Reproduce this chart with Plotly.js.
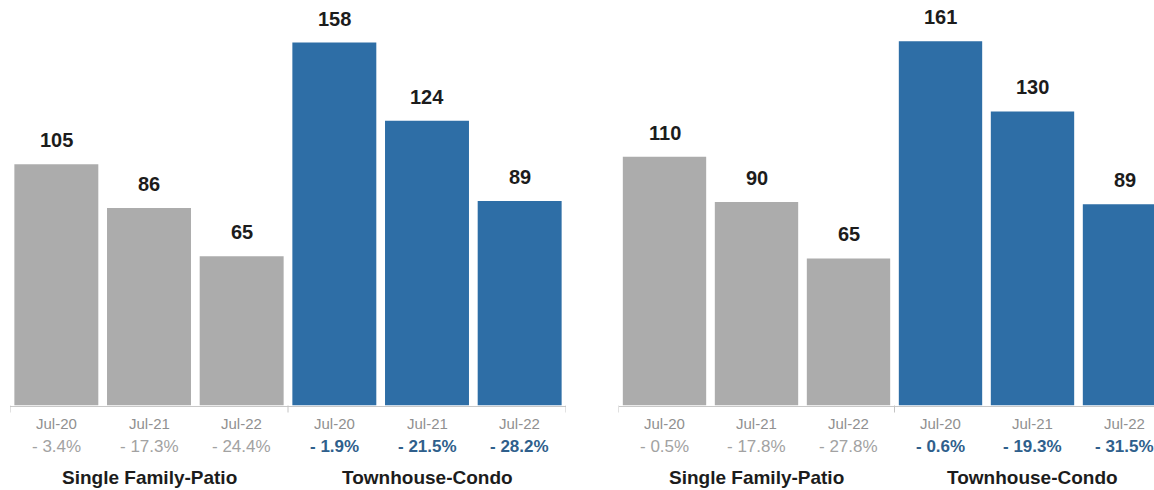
<!DOCTYPE html>
<html>
<head>
<meta charset="utf-8">
<script src="https://cdn.plot.ly/plotly-3.0.1.min.js"></script>
<style>
html,body{margin:0;padding:0;background:#fff;overflow:hidden;}
#chart{width:1154px;height:490px;}
</style>
</head>
<body>
<div id="chart"></div>
<script>
// ---- data ----
const periods = ["Jul-20", "Jul-21", "Jul-22"];
const groups = ["Single Family-Patio", "Townhouse-Condo"];

const leftSingleFamily = [105, 86, 65];
const leftTownhouse = [158, 124, 89];
const leftSingleFamilyPct = ["- 3.4%", "- 17.3%", "- 24.4%"];
const leftTownhousePct = ["- 1.9%", "- 21.5%", "- 28.2%"];

const rightSingleFamily = [110, 90, 65];
const rightTownhouse = [161, 130, 89];
const rightSingleFamilyPct = ["- 0.5%", "- 17.8%", "- 27.8%"];
const rightTownhousePct = ["- 0.6%", "- 19.3%", "- 31.5%"];

// ---- style ----
const GREY = "#acacac";
const BLUE = "#2e6ea6";
const FONT = "Liberation Sans, Arial, sans-serif";
const W = 1154, H = 490;
const baselinePx = 405.5;
const yDomBottom = (H - baselinePx) / H;

function cats(prefix) {
  const out = [];
  groups.forEach(g => periods.forEach(p => out.push(prefix + "|" + g + "|" + p)));
  return out;
}

const panels = [
  {xa: "x", ya: "y", sf: leftSingleFamily, th: leftTownhouse, sfp: leftSingleFamilyPct, thp: leftTownhousePct},
  {xa: "x2", ya: "y2", sf: rightSingleFamily, th: rightTownhouse, sfp: rightSingleFamilyPct, thp: rightTownhousePct}
];

const data = [];
const annotations = [];
const shapes = [];

panels.forEach((pn, i) => {
  const c = cats(pn.xa);
  data.push({type: "bar", x: c.slice(0, 3), y: pn.sf, xaxis: pn.xa, yaxis: pn.ya,
    marker: {color: GREY}, hoverinfo: "skip", showlegend: false});
  data.push({type: "bar", x: c.slice(3, 6), y: pn.th, xaxis: pn.xa, yaxis: pn.ya,
    marker: {color: BLUE}, hoverinfo: "skip", showlegend: false});

  const vals = pn.sf.concat(pn.th);
  const pcts = pn.sfp.concat(pn.thp);
  vals.forEach((v, k) => {
    annotations.push({xref: pn.xa, yref: pn.ya, x: k, y: v, text: String(v),
      showarrow: false, yanchor: "bottom", yshift: 11,
      font: {family: FONT, size: 20, color: "#1c1c1c", weight: "bold"}});
    annotations.push({xref: pn.xa, yref: "paper", x: k, y: (H - 423.5) / H,
      text: periods[k % 3], showarrow: false, yanchor: "middle",
      font: {family: FONT, size: 15, color: "#909090"}});
    const isBlue = k >= 3;
    annotations.push({xref: pn.xa, yref: "paper", x: k, y: (H - 446) / H,
      text: isBlue ? "<b>" + pcts[k] + "</b>" : pcts[k], showarrow: false, yanchor: "middle",
      font: {family: FONT, size: 17, color: isBlue ? "#2f5f8c" : "#a2a2a2"}});
  });
  groups.forEach((g, gi) => {
    annotations.push({xref: pn.xa, yref: "paper", x: gi * 3 + 1, y: (H - 477) / H,
      text: "<b>" + g + "</b>", showarrow: false, yanchor: "middle",
      font: {family: FONT, size: 19, color: "#1c1c1c"}});
  });
  [-0.5, 2.5, 5.5].forEach(t => {
    shapes.push({type: "line", xref: pn.xa, yref: "paper", x0: t, x1: t,
      y0: yDomBottom, y1: yDomBottom - 7 / H, line: {color: "#c4c4c4", width: 1}});
  });
});

const axX = {type: "category", showticklabels: false, ticks: "", showgrid: false, zeroline: false,
  showline: true, linecolor: "#c8c8c8", linewidth: 1, fixedrange: true};
const axY = {visible: false, showgrid: false, zeroline: false, fixedrange: true};

const layout = {
  width: W, height: H,
  margin: {l: 0, r: 0, t: 0, b: 0},
  paper_bgcolor: "#fff", plot_bgcolor: "#fff",
  barmode: "overlay", bargap: 0.094,
  showlegend: false,
  xaxis: Object.assign({}, axX, {domain: [10 / W, 566 / W], range: [-0.5, 5.5]}),
  xaxis2: Object.assign({}, axX, {domain: [618.5 / W, 1], range: [-0.5, -0.5 + (W - 618.5) / 92], anchor: "y2"}),
  yaxis: Object.assign({}, axY, {domain: [yDomBottom, 1], range: [0, baselinePx / 2.297]}),
  yaxis2: Object.assign({}, axY, {domain: [yDomBottom, 1], range: [0, baselinePx / 2.262], anchor: "x2"}),
  annotations: annotations,
  shapes: shapes
};

Plotly.newPlot("chart", data, layout, {displayModeBar: false, staticPlot: true});
</script>
</body>
</html>
